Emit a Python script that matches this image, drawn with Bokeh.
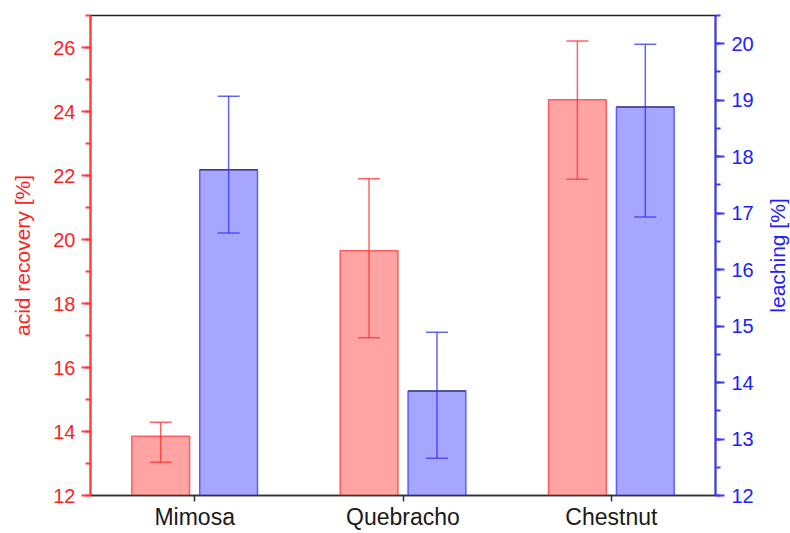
import numpy as np
from bokeh.plotting import figure
from bokeh.layouts import row
from bokeh.models import (ColumnDataSource, FactorRange, Range1d, LinearAxis,
                          SingleIntervalTicker, FixedTicker)
from bokeh.transform import dodge
from bokeh.embed import file_html
from bokeh.resources import INLINE

# ---- data ----
categories = ["Mimosa", "Quebracho", "Chestnut"]
acid_recovery = [13.85, 19.65, 24.37]
acid_upper = [14.29, 21.90, 26.20]
acid_lower = [13.04, 16.93, 21.88]
leaching = [17.77, 13.85, 18.88]
leach_upper = [19.07, 14.89, 19.99]
leach_lower = [16.65, 12.66, 16.93]

left_ticks_interval = 2
right_ticks_interval = 1

src = ColumnDataSource(dict(cat=categories, acid=acid_recovery, acid_up=acid_upper,
                            acid_lo=acid_lower, leach=leaching, leach_up=leach_upper,
                            leach_lo=leach_lower))

FONT = "Liberation Sans"
RED_FILL, RED_LINE, RED_TXT = "#ffa3a3", "#ff5c5c", "#ff1f1f"
BLUE_FILL, BLUE_LINE, BLUE_TXT = "#a6a6ff", "#5c5cff", "#2020ff"

p = figure(width=760, height=533,
           x_range=FactorRange(factors=categories, range_padding=0),
           y_range=Range1d(12, 27),
           output_backend="svg", toolbar_location=None,
           min_border_left=90, min_border_right=45, min_border_top=15, min_border_bottom=38)
p.extra_y_ranges = {"right": Range1d(12, 20.5)}

OFF = 0.163
W = 0.277
xr = dodge("cat", -OFF, range=p.x_range)
xb = dodge("cat", OFF, range=p.x_range)

# bars
p.vbar(x=xr, top="acid", bottom=12, width=W, source=src,
       fill_color=RED_FILL, line_color=RED_LINE, line_width=1.5)
p.vbar(x=xb, top="leach", bottom=12, width=W, source=src, y_range_name="right",
       fill_color=BLUE_FILL, line_color=BLUE_LINE, line_width=1.5)
# dark top edge of blue bars
p.segment(x0=dodge("cat", OFF - W / 2, range=p.x_range), x1=dodge("cat", OFF + W / 2, range=p.x_range),
          y0="leach", y1="leach", source=src, y_range_name="right",
          line_color="#333333", line_alpha=0.7, line_width=1.5)

# error bars
p.segment(x0=xr, x1=xr, y0="acid_lo", y1="acid_up", source=src,
          line_color="#ff3030", line_alpha=0.75, line_width=1.5)
for col in ("acid_lo", "acid_up"):
    p.scatter(x=xr, y=col, source=src, marker="dash", size=22,
              line_color="#ff3030", line_alpha=0.75, line_width=1.5)
p.segment(x0=xb, x1=xb, y0="leach_lo", y1="leach_up", source=src, y_range_name="right",
          line_color="#3030ff", line_alpha=0.75, line_width=1.5)
for col in ("leach_lo", "leach_up"):
    p.scatter(x=xb, y=col, source=src, marker="dash", size=22, y_range_name="right",
              line_color="#3030ff", line_alpha=0.75, line_width=1.5)

p.xgrid.visible = False
p.ygrid.visible = False
p.outline_line_color = "#222222"
p.outline_line_width = 1.5
p.background_fill_color = "white"
p.border_fill_color = "white"

# x axis
xa = p.xaxis[0]
xa.axis_line_color = "#333333"
xa.axis_line_width = 1.5
xa.major_tick_line_color = "#333333"
xa.major_tick_line_width = 1.5
xa.major_tick_out = 6
xa.major_tick_in = 0
xa.minor_tick_line_color = None
xa.major_label_text_font = FONT
xa.major_label_text_font_size = "23px"
xa.major_label_text_color = "#1a1a1a"
xa.major_label_standoff = 2


def style_y(a, col, txt, standoff):
    a.axis_line_color = col
    a.axis_line_width = 2
    a.major_tick_line_color = col
    a.major_tick_line_width = 2
    a.minor_tick_line_color = col
    a.minor_tick_line_width = 2
    a.major_tick_out = 9
    a.major_tick_in = 0
    a.minor_tick_out = 5
    a.minor_tick_in = 0
    a.major_label_text_color = txt
    a.major_label_text_font = FONT
    a.major_label_text_font_size = "20px"
    a.major_label_standoff = standoff


def style_title(a, txt, label, standoff):
    a.axis_label = label
    a.axis_label_text_color = txt
    a.axis_label_text_font = FONT
    a.axis_label_text_font_size = "21px"
    a.axis_label_text_font_style = "normal"
    a.axis_label_standoff = standoff


la = p.yaxis[0]
la.ticker = SingleIntervalTicker(interval=left_ticks_interval, num_minor_ticks=2)
style_y(la, "#ff3b3b", RED_TXT, 6)
style_title(la, RED_TXT, "acid recovery [%]", 16)

ra = LinearAxis(y_range_name="right",
                ticker=SingleIntervalTicker(interval=right_ticks_interval, num_minor_ticks=2))
style_y(ra, "#3b3bff", BLUE_TXT, 7)
p.add_layout(ra, "right")

# narrow strip carrying the right-hand axis title (reads bottom-to-top like the reference)
strip = figure(width=30, height=533, x_range=Range1d(0, 1), y_range=Range1d(12, 20.5),
               output_backend="svg", toolbar_location=None, x_axis_location=None,
               min_border_left=28, min_border_right=1, min_border_top=15, min_border_bottom=38)
strip.outline_line_color = None
strip.xgrid.visible = False
strip.ygrid.visible = False
strip.background_fill_color = "white"
strip.border_fill_color = "white"
sa = strip.yaxis[0]
sa.ticker = FixedTicker(ticks=[])
sa.axis_line_color = None
sa.major_tick_line_color = None
sa.minor_tick_line_color = None
sa.major_label_text_font_size = "0px"
sa.major_label_standoff = 0
style_title(sa, BLUE_TXT, "leaching [%]", 0)

layout = row(p, strip, spacing=0)
open("out.html", "w").write(file_html(layout, INLINE))
